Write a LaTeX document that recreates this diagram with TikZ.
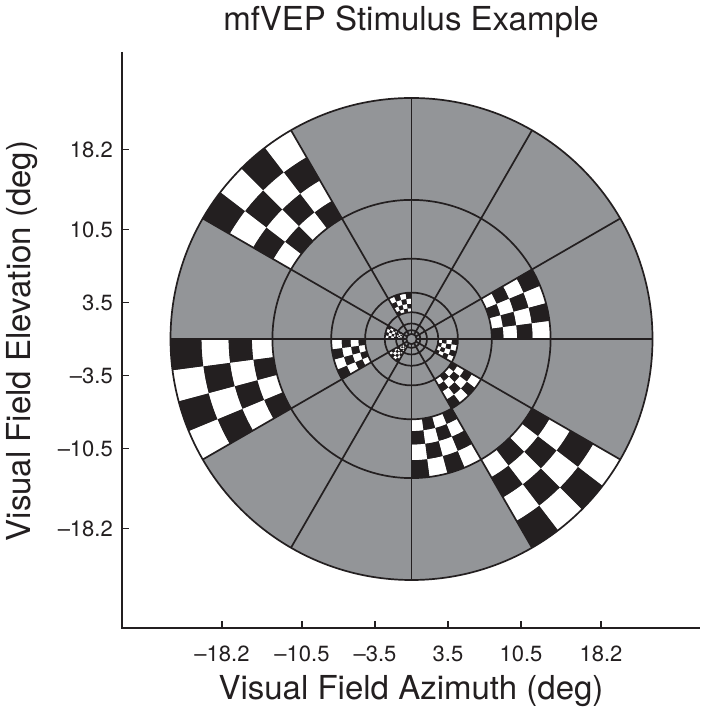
\documentclass[tikz,border=0pt]{standalone}
\usepackage{fontspec}
\setmainfont{TeX Gyre Heros}
\definecolor{fieldgray}{RGB}{147,149,152}
\definecolor{ink}{RGB}{35,31,32}
\tikzset{
  gridline/.style={draw=ink, line width=1.7pt},
  axisline/.style={draw=ink, line width=1.4pt},
  ticklab/.style={inner sep=0pt, font=\fontsize{22}{24}\selectfont, text=ink},
  biglab/.style={inner sep=0pt, font=\fontsize{33}{36}\selectfont, text=ink},
}
% #1 inner radius, #2 outer radius, #3 start angle, #4 end angle, #5 phase
\newcommand{\cksector}[5]{%
  \pgfmathsetmacro{\ckq}{pow(#2/#1,0.25)}%
  \foreach \ci in {0,...,3}{%
    \foreach \cj in {0,...,3}{%
      \pgfmathsetmacro{\ckra}{#1*pow(\ckq,\ci)}%
      \pgfmathsetmacro{\ckrb}{#1*pow(\ckq,\ci+1)}%
      \pgfmathsetmacro{\ckaa}{#3+(#4-#3)*\cj/4}%
      \pgfmathsetmacro{\ckab}{#3+(#4-#3)*(\cj+1)/4}%
      \pgfmathtruncatemacro{\ckpar}{mod(\ci+\cj+#5,2)}%
      \ifnum\ckpar=0 \def\ckcol{ink}\else\def\ckcol{white}\fi
      \fill[\ckcol] (\ckaa:\ckra) arc[start angle=\ckaa, end angle=\ckab, radius=\ckra]
        -- (\ckab:\ckrb) arc[start angle=\ckab, end angle=\ckaa, radius=\ckrb] -- cycle;
    }%
  }%
}
\begin{document}
\begin{tikzpicture}[x=1pt,y=1pt]
\useasboundingbox (0,0) rectangle (700,708);
\fill[white] (0,0) rectangle (700,708);

\begin{scope}[shift={(411.5,369)}]
  \fill[fieldgray] (0,0) circle[radius=241];
  % checkered sectors
  \cksector{139.1}{241}{120}{150}{0}
  \cksector{139.1}{241}{180}{210}{1}
  \cksector{139.1}{241}{300}{330}{1}
  \cksector{80.3}{139.1}{0}{30}{0}
  \cksector{80.3}{139.1}{270}{300}{1}
  \cksector{46.4}{80.3}{180}{210}{0}
  \cksector{46.4}{80.3}{300}{330}{1}
  \cksector{26.8}{46.4}{90}{120}{1}
  \cksector{26.8}{46.4}{330}{360}{0}
  \cksector{15.5}{26.8}{150}{180}{1}
  \cksector{8.9}{15.5}{150}{180}{0}
  \cksector{15.5}{26.8}{210}{240}{0}
  \cksector{8.9}{15.5}{210}{240}{1}
  % rings and spokes
  \foreach \r in {241,139.1,80.3,46.4,26.8,15.5,8.9,5.2}
    \draw[gridline] (0,0) circle[radius=\r];
  \foreach \a in {0,30,...,330}
    \draw[gridline] (\a:5.2) -- (\a:241);
\end{scope}

% axes
\coordinate (ytop) at (122,656);
\coordinate (orig) at (122,80);
\coordinate (xend) at (700,80);
\draw[axisline] (ytop) -- (orig) -- (xend);

% y ticks
\foreach \yy/\lab [count=\k] in {558.5/18.2, 478.5/10.5, 405.5/3.5, 332.5/{–3.5}, 259.5/{–10.5}, 179.5/{–18.2}}{
  \coordinate (yt\k) at (122,\yy);
  \draw[axisline] (yt\k) -- ++(7,0);
  \node[ticklab, anchor=east] (ylab\k) at (113,\yy) {\lab};
}
% x ticks
\foreach \xx/\lab [count=\k] in {222/{–18.2}, 302/{–10.5}, 375/{–3.5}, 448/3.5, 521/10.5, 601/18.2}{
  \coordinate (xt\k) at (\xx,80);
  \draw[axisline] (xt\k) -- ++(0,7);
  \node[ticklab, anchor=north] (xlab\k) at (\xx,62) {\lab};
}

\node[biglab, anchor=base] (title) at (411,677) {mfVEP Stimulus Example};
\node[biglab, anchor=base] (xlabel) at (411,9) {Visual Field Azimuth (deg)};
\node[biglab, anchor=base, rotate=90] (ylabel) at (30,367) {Visual Field Elevation (deg)};
\end{tikzpicture}
\end{document}
